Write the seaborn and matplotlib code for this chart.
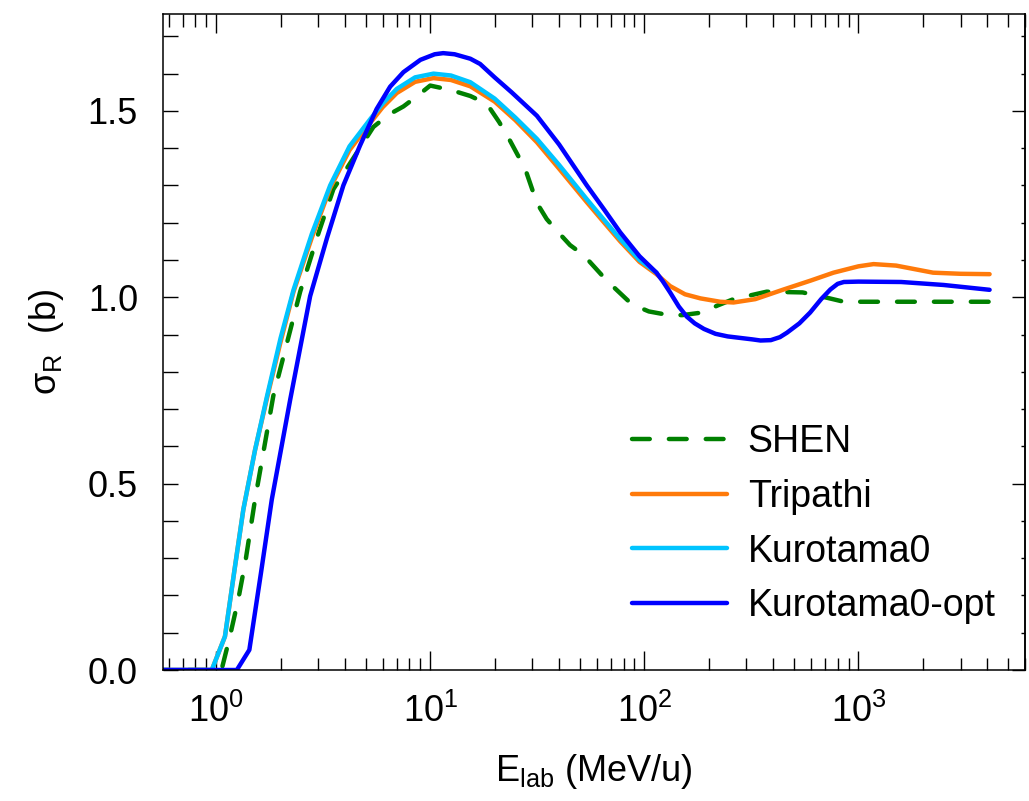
import matplotlib
matplotlib.use("Agg")
import matplotlib.pyplot as plt
from matplotlib.ticker import MultipleLocator, LogLocator, NullFormatter
import numpy as np
import pandas as pd
import seaborn as sns

# reaction cross section vs energy
shen_e = [0.5, 1.06, 1.16, 1.27, 1.37, 1.52, 1.85, 2.47, 3.0, 3.53, 4.5, 5.43, 6.4, 7.5, 8.7,
          10.0, 12.5, 15.4, 17.5, 19.1, 21.0, 23.6, 27.8, 31.5, 35.0, 39.4, 45.0, 52.1, 67.0,
          87.6, 105, 125, 150, 186, 220, 261, 373, 549, 710, 855, 1200, 4100]
shen_s = [0, 0, 0.09, 0.19, 0.29, 0.457, 0.735, 1.015, 1.17, 1.29, 1.384, 1.457, 1.49, 1.512, 1.54,
          1.568, 1.556, 1.54, 1.525, 1.505, 1.47, 1.42, 1.344, 1.253, 1.21, 1.176, 1.14, 1.113, 1.044,
          0.981, 0.962, 0.954, 0.952, 0.959, 0.978, 0.995, 1.015, 1.013, 0.999, 0.988, 0.988, 0.988]

trip_e = [0.5, 0.955, 1.10, 1.22, 1.34, 1.52, 1.73, 2.0, 2.30, 2.8, 3.41, 4.2, 5.25, 6.0, 6.98,
          8.5, 10.36, 12.5, 15.4, 20.0, 25.0, 31.5, 40.0, 53.9, 65.0, 77.2, 95.0, 114, 132, 155,
          183, 226, 261, 330, 448, 600, 765, 1000, 1177, 1500, 2232, 3000, 4100]
trip_s = [0, 0, 0.09, 0.27, 0.43, 0.59, 0.73, 0.88, 1.015, 1.16, 1.293, 1.395, 1.468, 1.51, 1.548,
          1.578, 1.588, 1.583, 1.566, 1.525, 1.475, 1.416, 1.345, 1.255, 1.2, 1.15, 1.095, 1.062, 1.03, 1.008,
          0.997, 0.988, 0.986, 0.995, 1.021, 1.045, 1.066, 1.083, 1.089, 1.085, 1.066, 1.063, 1.062]

kuro_e = [0.5, 0.955, 1.10, 1.22, 1.34, 1.52, 1.73, 2.0, 2.30, 2.8, 3.41, 4.2, 5.25, 6.0, 6.98,
          8.5, 10.36, 12.5, 15.4, 20.0, 25.0, 31.5, 40.0, 53.9, 65.0, 77.2, 95.0, 114]
kuro_s = [0, 0, 0.09, 0.27, 0.43, 0.59, 0.735, 0.89, 1.02, 1.17, 1.30, 1.405, 1.478, 1.52, 1.559,
          1.59, 1.60, 1.595, 1.577, 1.533, 1.482, 1.425, 1.355, 1.263, 1.207, 1.156, 1.10, 1.066]

opt_e = [0.5, 1.25, 1.43, 1.62, 1.82, 2.22, 2.75, 3.3, 3.93, 4.7, 5.62, 6.5, 7.5, 9.0, 10.5,
         11.5, 13.0, 15.4, 17.1, 20.0, 24.0, 31.5, 40.0, 53.9, 65.0, 77.2, 95.0, 114, 122, 132,
         145, 158, 172, 190, 215, 245, 280, 320, 349, 390, 430, 464, 530, 595, 670, 740, 800,
         855, 1000, 1583, 2500, 4100]
opt_s = [0, 0, 0.054, 0.26, 0.457, 0.726, 1.003, 1.16, 1.30, 1.407, 1.505, 1.565, 1.604, 1.637, 1.652,
         1.655, 1.652, 1.64, 1.626, 1.59, 1.55, 1.487, 1.41, 1.30, 1.235, 1.174, 1.11, 1.066, 1.043, 1.013,
         0.975, 0.948, 0.93, 0.915, 0.902, 0.895, 0.891, 0.887, 0.884, 0.885, 0.893, 0.905, 0.93, 0.959,
         0.995, 1.021, 1.036, 1.041, 1.042, 1.041, 1.033, 1.02]

series = [("SHEN", shen_e, shen_s, "#008000"),
          ("Tripathi", trip_e, trip_s, "#ff7a0a"),
          ("Kurotama0", kuro_e, kuro_s, "#00c4ff"),
          ("Kurotama0-opt", opt_e, opt_s, "#0000ff")]

sns.set_theme(style="ticks")
plt.rcParams['font.family'] = ['Liberation Sans', 'DejaVu Sans']
plt.rcParams['mathtext.fontset'] = 'custom'
plt.rcParams['mathtext.rm'] = 'Liberation Sans'
plt.rcParams['mathtext.it'] = 'Liberation Sans:italic'
plt.rcParams['mathtext.bf'] = 'Liberation Sans:bold'
for key in ['text.color', 'axes.labelcolor', 'xtick.color', 'ytick.color', 'axes.edgecolor']:
    plt.rcParams[key] = 'black'

fig = plt.figure(figsize=(10.29, 8.01), dpi=100)
ax = fig.add_axes([163/1029, 1 - 670/801, 862/1029, 656/801])

for name, e, s, c in series:
    df = pd.DataFrame({"E": e, "sigma": s})
    sns.lineplot(data=df, x="E", y="sigma", ax=ax, color=c, label=name, lw=3.2,
                 sort=False, estimator=None)

# SHEN is dashed
shen_line = ax.get_lines()[0]
shen_line.set_dashes([4, 4.3])
shen_line.set_dash_capstyle('round')

ax.set_xscale('log')
ax.set_xlim(0.565, 6000)
ax.set_ylim(0, 1.76)

ax.xaxis.set_major_locator(LogLocator(base=10, numticks=10))
ax.xaxis.set_minor_locator(LogLocator(base=10, subs=np.arange(2, 10), numticks=20))
ax.xaxis.set_minor_formatter(NullFormatter())
ax.yaxis.set_major_locator(MultipleLocator(0.5))
ax.yaxis.set_minor_locator(MultipleLocator(0.1))
ax.yaxis.set_major_formatter(plt.FuncFormatter(lambda v, p: f"{v:.1f}"))

ax.tick_params(axis='x', which='both', direction='in', top=True, bottom=True,
               labelsize=26, pad=17, width=1, color='black', labelcolor='black')
ax.tick_params(axis='x', which='major', length=14)
ax.tick_params(axis='x', which='minor', length=9)
ax.tick_params(axis='y', which='both', direction='in', left=True, right=False,
               labelsize=26, pad=18, width=1, length=10.5, color='black', labelcolor='black')

# right side: long majors, short minors
sec = ax.secondary_yaxis('right')
sec.yaxis.set_major_locator(MultipleLocator(0.5))
sec.yaxis.set_minor_locator(MultipleLocator(0.1))
sec.tick_params(which='both', direction='in', labelright=False, width=1, color='black')
sec.tick_params(which='major', length=9.5)
sec.tick_params(which='minor', length=3)

for sp in list(ax.spines.values()) + list(sec.spines.values()):
    sp.set_linewidth(1.1)
    sp.set_color('black')

ax.set_xlabel(r'E$_{\mathrm{lab}}$ (MeV/u)', fontsize=26, labelpad=16, color='black')
ax.set_ylabel(r'$\mathrm{\sigma}_{\mathrm{R}}$  (b)', fontsize=26, labelpad=16, color='black')

leg = ax.legend(loc='upper left', bbox_to_anchor=(0.544, 0.375), frameon=False,
                fontsize=27, handlelength=2.53, handletextpad=0.56, labelspacing=0.5,
                borderpad=0, borderaxespad=0)
for t in leg.get_texts():
    t.set_color('black')

fig.savefig("out.png", dpi=100)
